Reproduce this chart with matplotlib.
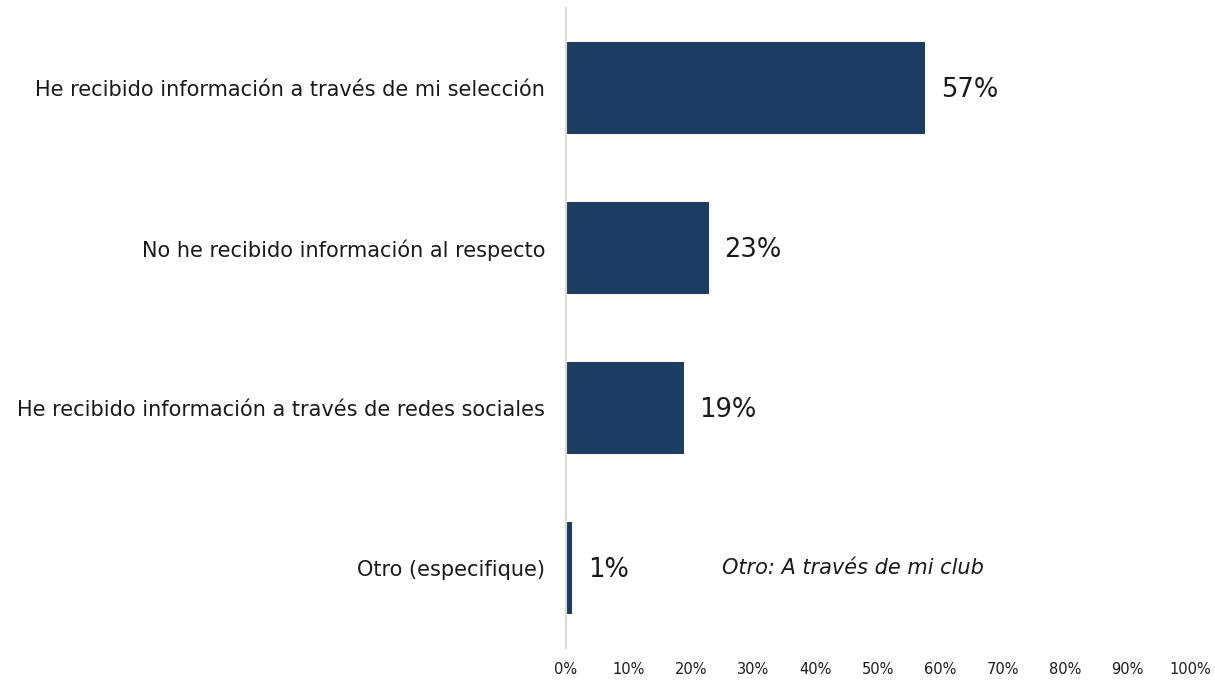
import matplotlib.pyplot as plt

categorias = ["He recibido información a través de mi selección",
              "No he recibido información al respecto",
              "He recibido información a través de redes sociales",
              "Otro (especifique)"]
valores = [57.6, 22.9, 18.9, 1.0]
etiquetas = ["57%", "23%", "19%", "1%"]
ticks = [0, 10, 20, 30, 40, 50, 60, 70, 80, 90, 100]

plt.rcParams['font.family'] = ['DejaVu Sans']

fig = plt.figure(figsize=(12.15, 6.8), dpi=100)
ax = fig.add_axes([0.4658, 0.047, 0.5136, 0.941])

ypos = range(len(categorias))
ax.barh(ypos, valores, height=0.575, color='#1b3d63')
for y, v, t in zip(ypos, valores, etiquetas):
    ax.text(v + 2.5, y + 0.01, t, va='center', ha='left', fontsize=18.5, color='#1a1a1a')

ax.text(25, 3, "Otro: A través de mi club", style='italic', va='center', ha='left',
        fontsize=15, color='#1a1a1a')

ax.set_ylim(3.5, -0.5)
ax.set_xlim(0, 100)
ax.set_yticks(list(ypos))
ax.set_yticklabels(categorias, fontsize=15, color='#1a1a1a')
ax.set_xticks(ticks)
ax.set_xticklabels([f"{t}%" for t in ticks], fontsize=10.5, color='#1a1a1a')
ax.tick_params(axis='both', length=0)
ax.tick_params(axis='x', pad=10)
ax.tick_params(axis='y', pad=15)

for s in ['top', 'right', 'bottom']:
    ax.spines[s].set_visible(False)
ax.spines['left'].set_color('#d9d9d9')
ax.spines['left'].set_linewidth(1.5)

fig.savefig('out.png', dpi=100)
